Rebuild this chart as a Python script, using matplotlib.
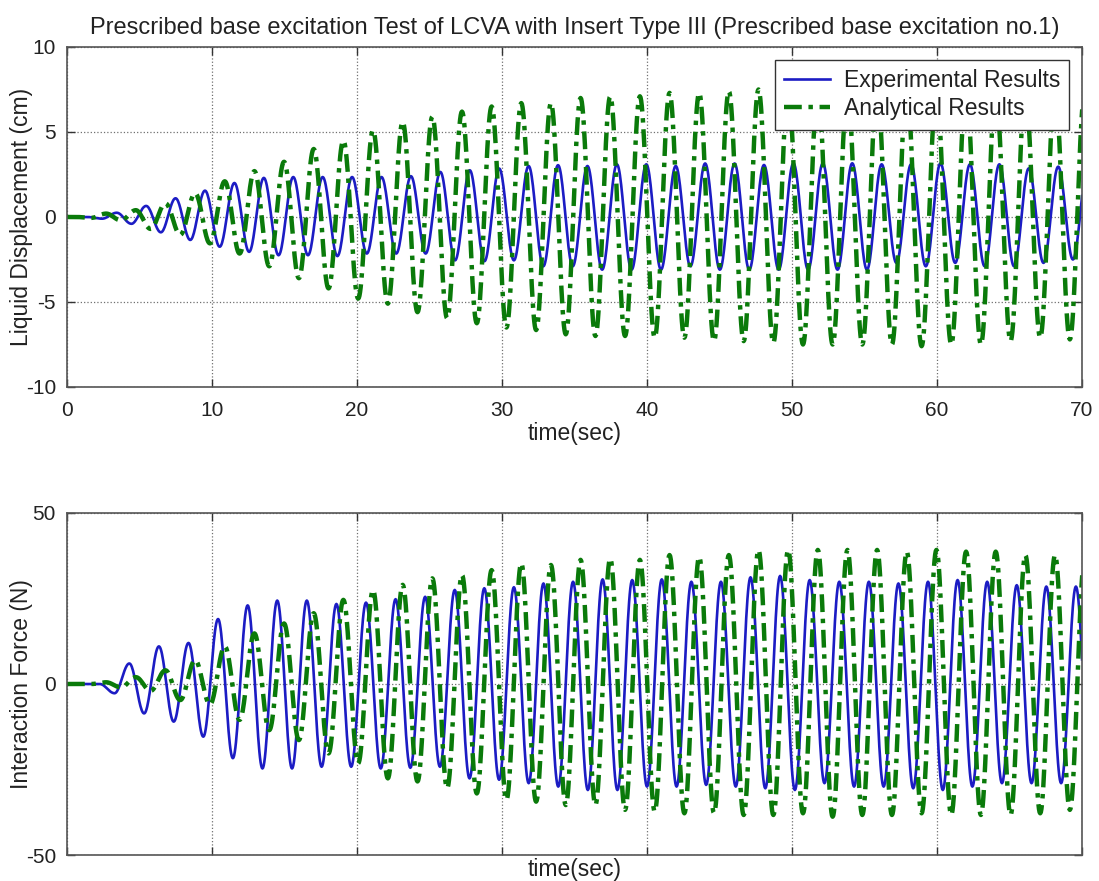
import numpy as np
import matplotlib
matplotlib.use("Agg")
import matplotlib.pyplot as plt

# ---- time axis ----
x_ticks = [0, 10, 20, 30, 40, 50, 60, 70]

# ---- liquid displacement (cm) ----
# experimental: first crest time, oscillation period, crest / trough heights per cycle
disp_exp_t0 = 3.43
disp_exp_period = 2.029
disp_exp_peaks = [0.25, 0.65, 1.1, 1.55, 2.0, 2.3, 2.35, 2.35, 2.35, 2.35, 2.4, 2.65,
                  2.75, 2.85, 3.0, 3.05, 3.0, 3.1, 3.1, 3.0, 3.15, 3.15, 3.06, 3.16,
                  3.16, 3.16, 3.1, 3.1, 3.16, 3.1, 3.1, 2.86, 2.96, 2.9]
disp_exp_troughs = [-0.1, -0.4, -0.9, -1.35, -1.75, -2.05, -2.25, -2.25, -2.3, -2.15,
                    -2.15, -2.15, -2.55, -2.6, -2.55, -2.9, -2.9, -3.1, -3.1, -3.1,
                    -2.9, -3.1, -3.1, -3.1, -3.1, -3.1, -3.1, -2.7, -2.9, -2.7, -2.9,
                    -2.9, -2.7, -2.5]

# analytical
disp_ana_t0 = 2.7
disp_ana_period = 2.045
disp_ana_peaks = [0.2, 0.4, 0.8, 1.4, 2.1, 2.7, 3.25, 4.0, 4.5, 5.1, 5.6, 5.9, 6.2, 6.5,
                  6.7, 6.7, 7.0, 7.1, 7.1, 7.3, 7.3, 7.4, 7.5, 7.4, 7.4, 7.3, 7.4, 7.4,
                  7.3, 7.4, 7.3, 7.3, 7.3, 7.3]
disp_ana_troughs = [-0.05, -0.2, -0.7, -1.05, -1.55, -2.15, -2.9, -3.6, -4.2, -4.8, -5.1,
                    -5.6, -5.96, -6.25, -6.5, -6.65, -6.9, -7.0, -7.0, -7.1, -7.1, -7.3,
                    -7.3, -7.4, -7.5, -7.5, -7.5, -7.5, -7.6, -7.5, -7.5, -7.3, -7.1,
                    -7.2]

# ---- interaction force (N) ----
force_exp_t0 = 4.3
force_exp_period = 2.04
force_exp_peaks = [6, 11, 12, 19, 23, 24.4, 24.4, 23.4, 23.8, 24.8, 25.5, 27.5, 28, 28.3,
                   29.4, 29.9, 30.6, 30.4, 30.6, 29.9, 29.9, 31.2, 31.6, 30.4, 29.9, 29.9,
                   29.4, 29.9, 30.4, 29.9, 28.9, 28.5, 28.5, 28.5]
force_exp_troughs = [-2.7, -8.6, -11, -15.4, -21.7, -24.7, -24.7, -24.2, -24.2, -24.7,
                     -24.5, -24.2, -27.6, -28, -29, -30, -31, -31, -30, -30, -29.5, -30,
                     -30.5, -31, -29, -30, -30, -30.5, -31, -30, -29, -29, -29, -29]

force_ana_t0 = 2.7
force_ana_period = 2.045
force_ana_peaks = [0.5, 2, 4, 7, 11, 14.8, 17.7, 20.7, 24.6, 27.5, 29, 30.9, 31.9, 33.3,
                   35.3, 34.8, 36.3, 36.7, 36.3, 37.7, 37.2, 37.7, 39.2, 39.2, 39.2, 39.2,
                   39.2, 38.7, 39.2, 38.7, 38.7, 37.7, 37.7, 36.7]
force_ana_troughs = [0, -1, -2, -4.7, -6, -10.5, -13.5, -16.4, -20.3, -23.2, -27.6, -28.5,
                     -30.5, -32, -33.9, -34.4, -35.4, -35.4, -36.8, -37.3, -37.8, -37.8,
                     -38.3, -38.3, -37.8, -38.8, -38.3, -38.3, -37.8, -38.3, -38.3, -38.3,
                     -37.8, -36.8]


def trace(t0, period, peaks, troughs, n=24):
    """Join successive troughs and crests with half-cosine arcs."""
    times = [0.0, t0 - period]
    vals = [0.0, 0.0]
    for k, (pk, tr) in enumerate(zip(peaks, troughs)):
        times += [t0 + (k - 0.5) * period, t0 + k * period]
        vals += [tr, pk]
    ts, ys = [], []
    for i in range(len(times) - 1):
        s = np.linspace(0.0, 1.0, n, endpoint=False)
        ts.append(times[i] + s * (times[i + 1] - times[i]))
        ys.append(vals[i] + (vals[i + 1] - vals[i]) * (1 - np.cos(np.pi * s)) / 2)
    ts.append([times[-1]])
    ys.append([vals[-1]])
    return np.concatenate(ts), np.concatenate(ys)


plt.rcParams["font.family"] = ["Liberation Sans", "DejaVu Sans"]
plt.rcParams["axes.unicode_minus"] = False

BLUE = "#1c1cc4"
GREEN = "#0a7a0a"
TXT = "#222222"
LABEL_FS = 16.5
TICK_FS = 15

fig = plt.figure(figsize=(10.99, 8.81), dpi=100)
ax1 = fig.add_axes([0.06096, 0.56073, 0.92357, 0.38593])
ax2 = fig.add_axes([0.06096, 0.02951, 0.92357, 0.38820])

dashdot = (0, (4, 1.5, 1, 1.5))

t, y = trace(disp_exp_t0, disp_exp_period, disp_exp_peaks, disp_exp_troughs)
ax1.plot(t, y, color=BLUE, lw=1.9, label="Experimental Results")
t, y = trace(disp_ana_t0, disp_ana_period, disp_ana_peaks, disp_ana_troughs)
ax1.plot(t, y, color=GREEN, lw=3.2, ls=dashdot, label="Analytical Results")

t, y = trace(force_exp_t0, force_exp_period, force_exp_peaks, force_exp_troughs)
ax2.plot(t, y, color=BLUE, lw=1.9)
t, y = trace(force_ana_t0, force_ana_period, force_ana_peaks, force_ana_troughs)
ax2.plot(t, y, color=GREEN, lw=3.2, ls=dashdot)

for ax in (ax1, ax2):
    ax.set_xlim(0, 70)
    ax.set_xticks(x_ticks)
    ax.grid(True, color="#707070", ls=":", lw=0.9)
    ax.tick_params(direction="in", length=6, width=1, top=True, right=True,
                   colors="#333333", labelcolor=TXT, labelsize=TICK_FS)
    ax.tick_params(axis="y", pad=8)
    ax.tick_params(axis="x", pad=10)
    for sp in ax.spines.values():
        sp.set_color("#555555")
        sp.set_linewidth(1.2)

ax1.set_ylim(-10, 10)
ax1.set_yticks([-10, -5, 0, 5, 10])
ax1.set_ylabel("Liquid Displacement (cm)", fontsize=LABEL_FS, color=TXT)
ax1.yaxis.set_label_coords(-0.033, 0.5)
ax1.set_xlabel("time(sec)", fontsize=LABEL_FS, color=TXT)
ax1.xaxis.set_label_coords(0.5, -0.103)
ax1.set_title("Prescribed base excitation Test of LCVA with Insert Type III "
              "(Prescribed base excitation no.1)", fontsize=17, color=TXT, pad=9)
leg = ax1.legend(loc="upper right", fontsize=LABEL_FS, handlelength=2.0,
                 handletextpad=0.6, borderaxespad=0.55, fancybox=False,
                 framealpha=1, edgecolor="#333333", borderpad=0.4,
                 labelspacing=0.25)
leg.get_frame().set_linewidth(1.0)
for txt in leg.get_texts():
    txt.set_color(TXT)

ax2.set_ylim(-50, 50)
ax2.set_yticks([-50, 0, 50])
ax2.set_xticklabels([])
ax2.set_ylabel("Interaction Force (N)", fontsize=LABEL_FS, color=TXT)
ax2.yaxis.set_label_coords(-0.033, 0.5)
ax2.set_xlabel("time(sec)", fontsize=LABEL_FS, color=TXT)
ax2.xaxis.set_label_coords(0.5, -0.01)

fig.savefig("out.png", dpi=100)
